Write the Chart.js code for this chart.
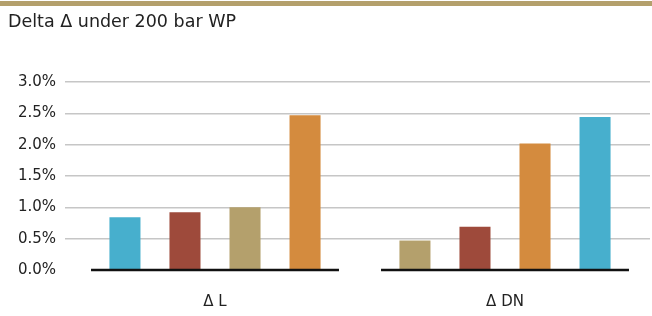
<!DOCTYPE html>
<html>
<head>
<meta charset="utf-8">
<script src="https://cdn.jsdelivr.net/npm/chart.js@4"></script>
<style>
  html, body { margin: 0; padding: 0; background: #fff; }
  #wrap { width: 652px; height: 316px; }
</style>
</head>
<body>
<div id="wrap"><canvas id="c"></canvas></div>
<script>
// chart data
const categories = ['Δ L', 'Δ DN'];
const bar1 = [0.84, 0.47];
const bar2 = [0.92, 0.69];
const bar3 = [1.00, 2.02];
const bar4 = [2.47, 2.44];
const bar1Colors = ['#47afcd', '#b4a06c'];
const bar2Colors = ['#9e4a3b', '#9e4a3b'];
const bar3Colors = ['#b4a06c', '#d48b3e'];
const bar4Colors = ['#d48b3e', '#47afcd'];
const yMin = 0, yMax = 3.0, yStep = 0.5;

const FONT = 'DejaVu Sans';

// tan band at the top and the black base line under each group
const decor = {
  id: 'decor',
  beforeDraw(chart) {
    const { ctx } = chart;
    ctx.save();
    ctx.fillStyle = '#b4a06c';
    ctx.fillRect(0, 1, chart.width, 5);
    ctx.restore();
  },
  afterDatasetsDraw(chart) {
    const { ctx, scales: { x, y } } = chart;
    const y0 = y.getPixelForValue(0);
    const half = x.width / categories.length * 0.855 / 2;
    ctx.save();
    ctx.strokeStyle = '#111';
    ctx.lineWidth = 2.5;
    categories.forEach((c, i) => {
      const cx = x.getPixelForValue(i);
      ctx.beginPath();
      ctx.moveTo(cx - half, y0);
      ctx.lineTo(cx + half, y0);
      ctx.stroke();
    });
    ctx.restore();
  }
};

const mk = (data, colors) => ({
  data: data,
  backgroundColor: colors,
  borderWidth: 0,
  categoryPercentage: 0.828,
  barPercentage: 0.517
});

new Chart(document.getElementById('c'), {
  type: 'bar',
  data: {
    labels: categories,
    datasets: [mk(bar1, bar1Colors), mk(bar2, bar2Colors), mk(bar3, bar3Colors), mk(bar4, bar4Colors)]
  },
  options: {
    responsive: true,
    maintainAspectRatio: false,
    animation: false,
    layout: { padding: { top: 0, left: 8, right: 2, bottom: 0 } },
    plugins: {
      legend: { display: false },
      tooltip: { enabled: false },
      title: {
        display: true,
        text: 'Delta Δ under 200 bar WP',
        align: 'start',
        color: '#222',
        font: { family: FONT, size: 17.5, weight: 'normal' },
        padding: { top: 12, bottom: 49 }
      }
    },
    scales: {
      x: {
        grid: { display: false },
        border: { display: false },
        ticks: {
          color: '#222',
          padding: 15,
          font: { family: FONT, size: 15 }
        },
        afterFit(s) { s.height = 46; }
      },
      y: {
        min: yMin,
        max: yMax,
        border: { display: false },
        grid: {
          color: ctx => ctx.tick && ctx.tick.value === 0 ? 'rgba(0,0,0,0)' : '#c6c6c6',
          lineWidth: 1.5,
          tickLength: 5
        },
        ticks: {
          stepSize: yStep,
          color: '#222',
          padding: 9,
          font: { family: FONT, size: 15 },
          callback: v => v.toFixed(1) + '%'
        },
        afterFit(s) { s.width = 62; }
      }
    }
  },
  plugins: [decor]
});
</script>
</body>
</html>
